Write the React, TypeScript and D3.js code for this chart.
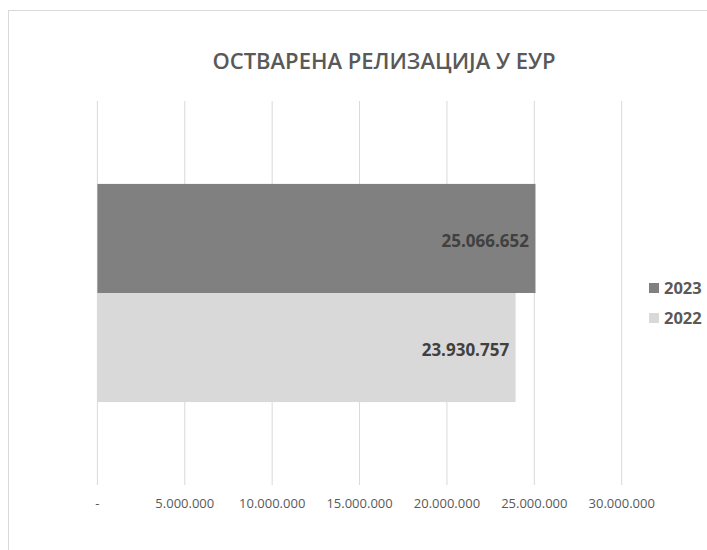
import { useMemo } from 'react';
import * as d3 from 'd3';

// chart data
const title = 'ОСТВАРЕНА РЕЛИЗАЦИЈА У ЕУР';
const categories = ['EUR'];
const seriesNames = ['2023', '2022'];
const seriesValues = [25066652, 23930757];
const seriesColors = ['#808080', '#d9d9d9'];
const tickValues = [0, 5000000, 10000000, 15000000, 20000000, 25000000, 30000000];

const W = 707;
const H = 550;
const FONT = '"Open Sans", "Noto Sans", sans-serif';

const fmt = (v: number) => (v === 0 ? '-' : d3.format(',')(v).replace(/,/g, '.'));

const App = () => {
  const plot = { left: 97.4, right: 621.7, top: 101, bottom: 485 };

  const xScale = useMemo(() => {
    return d3.scaleLinear()
      .domain([0, 30000000])
      .range([plot.left, plot.right]);
  }, []);

  const catScale = useMemo(() => {
    return d3.scaleBand()
      .domain(categories)
      .range([plot.top, plot.bottom])
      .paddingInner(0)
      .paddingOuter(0.38);
  }, []);

  const barScale = useMemo(() => {
    return d3.scaleBand()
      .domain(seriesNames)
      .range([0, catScale.bandwidth()]);
  }, [catScale]);

  const y0 = catScale(categories[0]) ?? 0;

  return (
    <svg
      width={W}
      height={H}
      style={{ position: 'absolute', left: 0, top: 0, background: '#fff' }}
    >
      <rect x={8.5} y={10.5} width={W + 50} height={H + 50} fill="#fff" stroke="#d9d9d9" />

      <text
        x={384}
        y={69}
        textAnchor="middle"
        fontFamily={FONT}
        fontWeight={600}
        fontSize={22}
        fill="#595959"
      >
        {title}
      </text>

      {/* gridlines */}
      {tickValues.map(t => (
        <line
          key={t}
          x1={xScale(t)}
          x2={xScale(t)}
          y1={plot.top}
          y2={plot.bottom}
          stroke="#d9d9d9"
          strokeWidth={1}
        />
      ))}

      {/* bars */}
      {seriesNames.map((s, i) => {
        const y = y0 + (barScale(s) ?? 0);
        const xEnd = xScale(seriesValues[i]);
        return (
          <g key={s}>
            <rect
              x={xScale(0)}
              y={y}
              width={xEnd - xScale(0)}
              height={barScale.bandwidth()}
              fill={seriesColors[i]}
            />
            <text
              x={xEnd - 6.5}
              y={y + barScale.bandwidth() / 2}
              dy="0.5em"
              textAnchor="end"
              fontFamily={FONT}
              fontWeight={700}
              fontSize={17}
              fill="#404040"
            >
              {fmt(seriesValues[i])}
            </text>
          </g>
        );
      })}

      {/* x tick labels */}
      {tickValues.map(t => (
        <text
          key={'l' + t}
          x={xScale(t)}
          y={503}
          dy="0.35em"
          textAnchor="middle"
          fontFamily={FONT}
          fontSize={13}
          fill="#595959"
        >
          {fmt(t)}
        </text>
      ))}

      {/* legend */}
      {seriesNames.map((s, i) => (
        <g key={'lg' + s} transform={`translate(649, ${288 + i * 30})`}>
          <rect x={0} y={-5} width={10} height={10} fill={seriesColors[i]} />
          <text
            x={15}
            y={0}
            dy="0.35em"
            fontFamily={FONT}
            fontWeight={700}
            fontSize={16.5}
            fill="#595959"
          >
            {s}
          </text>
        </g>
      ))}
    </svg>
  );
};

export default App;
